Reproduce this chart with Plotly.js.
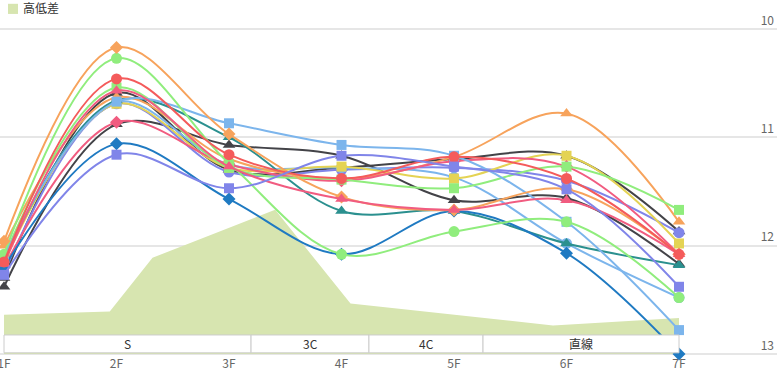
<!DOCTYPE html>
<html>
<head>
<meta charset="utf-8">
<script src="https://cdn.plot.ly/plotly-3.0.1.min.js"></script>
<style>
html,body{margin:0;padding:0;background:#fff;}
#chart{width:777px;height:372px;}
</style>
</head>
<body>
<div id="chart"></div>
<script>
// ---- data ----
const floors = ['1F', '2F', '3F', '4F', '5F', '6F', '7F'];
const sectionNames = ['S', '3C', '4C', '直線'];
const sectionBounds = [0, 2.196, 3.244, 4.258, 6];
const yTicks = [10, 11, 12, 13];

// elevation profile (高低差)
const areaX = [0, 0.94, 1.32, 2.41, 3.08, 4.88, 6];
const areaH = [0.48, 0.52, 1.18, 1.77, 0.62, 0.35, 0.44];

// lap times per furlong
const lapO = [12.30, 10.59, 11.30, 11.28, 11.20, 11.17, 11.87];
const lapG = [12.38, 10.88, 11.07, 11.17, 11.58, 11.56, 12.17];
const lapM = [12.25, 10.69, 11.32, 11.30, 11.28, 11.40, 11.88];
const lapP = [12.13, 10.67, 11.25, 11.28, 11.37, 11.98, 12.48];
const lapK = [12.15, 10.69, 11.28, 11.27, 11.38, 11.17, 11.98];
const lapL = [12.12, 10.66, 11.00, 11.68, 11.68, 11.98, 12.18];
const lapJ = [12.00, 10.63, 11.20, 11.38, 11.18, 10.78, 11.78];
const lapQ = [12.20, 10.86, 11.25, 11.40, 11.22, 11.27, 12.08];
const lapH = [12.20, 11.06, 11.57, 12.08, 11.68, 12.07, 13.00];
const lapD = [12.10, 10.54, 11.28, 11.39, 11.47, 11.27, 11.67];
const lapF = [12.10, 10.67, 10.87, 11.07, 11.17, 11.78, 12.78];
const lapB = [12.08, 10.27, 11.24, 12.08, 11.87, 11.78, 12.48];
const lapA = [11.96, 10.17, 10.97, 11.55, 11.67, 11.48, 12.08];
const lapE = [12.17, 10.57, 11.27, 11.57, 11.67, 11.58, 12.08];
const lapC = [12.15, 10.46, 11.16, 11.38, 11.18, 11.38, 12.08];
const lapI = [12.27, 11.16, 11.47, 11.17, 11.27, 11.48, 12.38];

// ---- styles ----
const seriesList = [
  {y: lapO, color: '#434348', symbol: 'triangle-up'},
  {y: lapG, color: '#434348', symbol: 'triangle-up'},
  {y: lapM, color: '#8085e9', symbol: 'circle'},
  {y: lapP, color: '#7cb5ec', symbol: 'circle'},
  {y: lapK, color: '#e4d354', symbol: 'square'},
  {y: lapL, color: '#2b908f', symbol: 'triangle-up'},
  {y: lapJ, color: '#f7a35c', symbol: 'triangle-up'},
  {y: lapQ, color: '#f15c80', symbol: 'diamond'},
  {y: lapH, color: '#1f7ac2', symbol: 'diamond'},
  {y: lapD, color: '#90ed7d', symbol: 'square'},
  {y: lapF, color: '#7cb5ec', symbol: 'square'},
  {y: lapB, color: '#90ed7d', symbol: 'circle'},
  {y: lapA, color: '#f7a35c', symbol: 'diamond'},
  {y: lapE, color: '#f15c80', symbol: 'triangle-up'},
  {y: lapC, color: '#f45b5b', symbol: 'circle'},
  {y: lapI, color: '#8085e9', symbol: 'square'}
];
const areaColor = '#d7e5b0';
const xIdx = floors.map((f, i) => i);

// area on the main (elevation) axis, drawn beneath the lap lines
const traces = [{
  x: areaX, y: areaH, xaxis: 'x', yaxis: 'y', type: 'scatter', mode: 'lines',
  fill: 'tozeroy', fillcolor: areaColor, line: {width: 0, color: areaColor},
  name: '高低差', showlegend: false, hoverinfo: 'skip'
}];
seriesList.forEach(s => {
  traces.push({
    x: xIdx, y: s.y, xaxis: 'x', yaxis: 'y2', type: 'scatter', mode: 'lines+markers',
    line: {color: s.color, width: 2, shape: 'spline', smoothing: 1},
    marker: {color: s.color, symbol: s.symbol,
             size: s.symbol === 'square' ? 10 : (s.symbol === 'diamond' ? 10 : 11),
             line: {width: 0}},
    cliponaxis: false, showlegend: false
  });
});

const shapes = [];
const annotations = [];
for (let i = 0; i < sectionNames.length; i++) {
  shapes.push({type: 'rect', xref: 'x', yref: 'y2', layer: 'above',
    x0: sectionBounds[i], x1: sectionBounds[i + 1], y0: 12.825, y1: 12.99,
    fillcolor: '#ffffff', line: {color: '#cccccc', width: 1}});
  annotations.push({xref: 'x', yref: 'y2', x: (sectionBounds[i] + sectionBounds[i + 1]) / 2,
    y: 12.905, text: sectionNames[i], showarrow: false, xanchor: 'center', yanchor: 'middle',
    font: {size: 12, color: '#333333'}});
}
// manual legend
shapes.push({type: 'rect', xref: 'paper', yref: 'paper', x0: 0.0103, x1: 0.0232,
  y0: 1.043, y1: 1.074, fillcolor: areaColor, line: {width: 0}});
annotations.push({xref: 'paper', yref: 'paper', x: 0.0270, y: 1.0615, text: '高低差',
  showarrow: false, xanchor: 'left', yanchor: 'middle', font: {size: 12, color: '#333333'}});

const layout = {
  width: 777, height: 372,
  margin: {l: 0, r: 0, t: 28, b: 17, pad: 0},
  paper_bgcolor: '#ffffff', plot_bgcolor: '#ffffff',
  font: {family: '"Noto Sans CJK JP", "Noto Sans", sans-serif', size: 12, color: '#666666'},
  showlegend: false,
  xaxis: {type: 'linear', range: [-0.0356, 6.871], tickvals: xIdx, ticktext: floors,
    showgrid: false, zeroline: false, showline: false, ticks: '',
    tickfont: {size: 12, color: '#666666'}, ticklabeloverflow: 'allow', automargin: false},
  yaxis: {range: [-0.0133, 4], visible: false, showgrid: false, zeroline: false, fixedrange: true},
  yaxis2: {overlaying: 'y', range: [13.01, 9.99], side: 'right', tickvals: yTicks,
    ticktext: yTicks.map(String),
    showgrid: true, gridcolor: '#e6e6e6', gridwidth: 2, zeroline: false, showline: false,
    ticks: '', ticklabelposition: 'inside top', ticklabeloverflow: 'allow',
    tickfont: {size: 12, color: '#666666'}, automargin: false},
  shapes: shapes,
  annotations: annotations
};

Plotly.newPlot('chart', traces, layout, {displayModeBar: false, staticPlot: true});
</script>
</body>
</html>
